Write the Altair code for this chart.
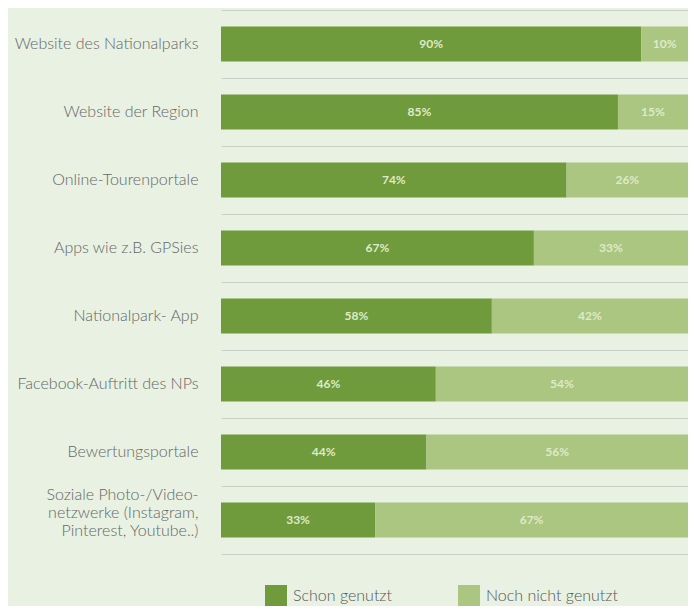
import altair as alt
import pandas as pd

categories = [
    "Website des Nationalparks",
    "Website der Region",
    "Online-Tourenportale",
    "Apps wie z.B. GPSies",
    "Nationalpark- App",
    "Facebook-Auftritt des NPs",
    "Bewertungsportale",
    "Soziale Photo-/Video-\nnetzwerke (Instagram,\nPinterest, Youtube..)",
]
schon = [90, 85, 74, 67, 58, 46, 44, 33]
noch = [10, 15, 26, 33, 42, 54, 56, 67]
series = ["Schon genutzt", "Noch nicht genutzt"]
colors = ["#6f9b3c", "#aac681"]

rows = []
for c, s, n in zip(categories, schon, noch):
    rows.append({"category": c, "status": series[0], "value": s, "ord": 0})
    rows.append({"category": c, "status": series[1], "value": n, "ord": 1})
df = pd.DataFrame(rows)

y_enc = alt.Y(
    "category:N",
    sort=categories,
    scale=alt.Scale(paddingInner=0, paddingOuter=0),
    axis=alt.Axis(
        title=None,
        domain=False,
        ticks=False,
        grid=True,
        gridColor="#c9cfc4",
        gridWidth=1.2,
        bandPosition=0,
        labelPadding=23,
        labelFont="Lato",
        labelFontSize=16,
        labelFontWeight=300,
        labelColor="#666666",
        labelLimit=260,
        labelLineHeight=18,
        labelOffset={"condition": {"test": "indexof(datum.label, '\\n') >= 0", "value": -25}, "value": 0},
        labelExpr="split(datum.label, '\\n')",
    ),
)

base = alt.Chart(df).transform_stack(
    stack="value", groupby=["category"], as_=["v0", "v1"], sort=[alt.SortField("ord")]
)

bars = base.mark_bar(height=alt.RelativeBandSize(0.515)).encode(
    y=y_enc,
    x=alt.X(
        "v0:Q",
        scale=alt.Scale(domain=[0, 100], nice=False),
        axis=alt.Axis(
            title=None, labels=False, ticks=False, grid=False,
            domain=True, domainColor="#c9cfc4", domainWidth=1.2,
        ),
    ),
    x2="v1:Q",
    color=alt.Color(
        "status:N",
        scale=alt.Scale(domain=series, range=colors),
        sort=series,
        legend=alt.Legend(
            title=None,
            orient="none",
            legendX=44,
            legendY=575,
            direction="horizontal",
            symbolType="square",
            symbolSize=484,
            symbolStrokeWidth=0,
            symbolOpacity=1,
            labelFont="Lato",
            labelFontSize=16,
            labelFontWeight=300,
            labelColor="#555555",
            labelOffset=6,
            columnPadding=66,
        ),
    ),
)

texts = base.transform_calculate(
    mid="(datum.v0 + datum.v1) / 2",
    lbl="datum.value + '%'",
).mark_text(
    font="Lato", fontSize=12, fontWeight="bold", color="#dfeac8"
).encode(
    y=alt.Y("category:N", sort=categories),
    x=alt.X("mid:Q"),
    text="lbl:N",
)

chart = (
    alt.layer(bars, texts)
    .properties(
        width=467,
        height=544,
        autosize=alt.AutoSizeParams(type="none"),
        padding={"left": 213, "top": 2, "right": 0, "bottom": 52},
        background="#e8f1e2",
    )
    .configure_view(stroke=None)
)

chart.save("out.html", embed_options={"renderer": "svg", "actions": False})
